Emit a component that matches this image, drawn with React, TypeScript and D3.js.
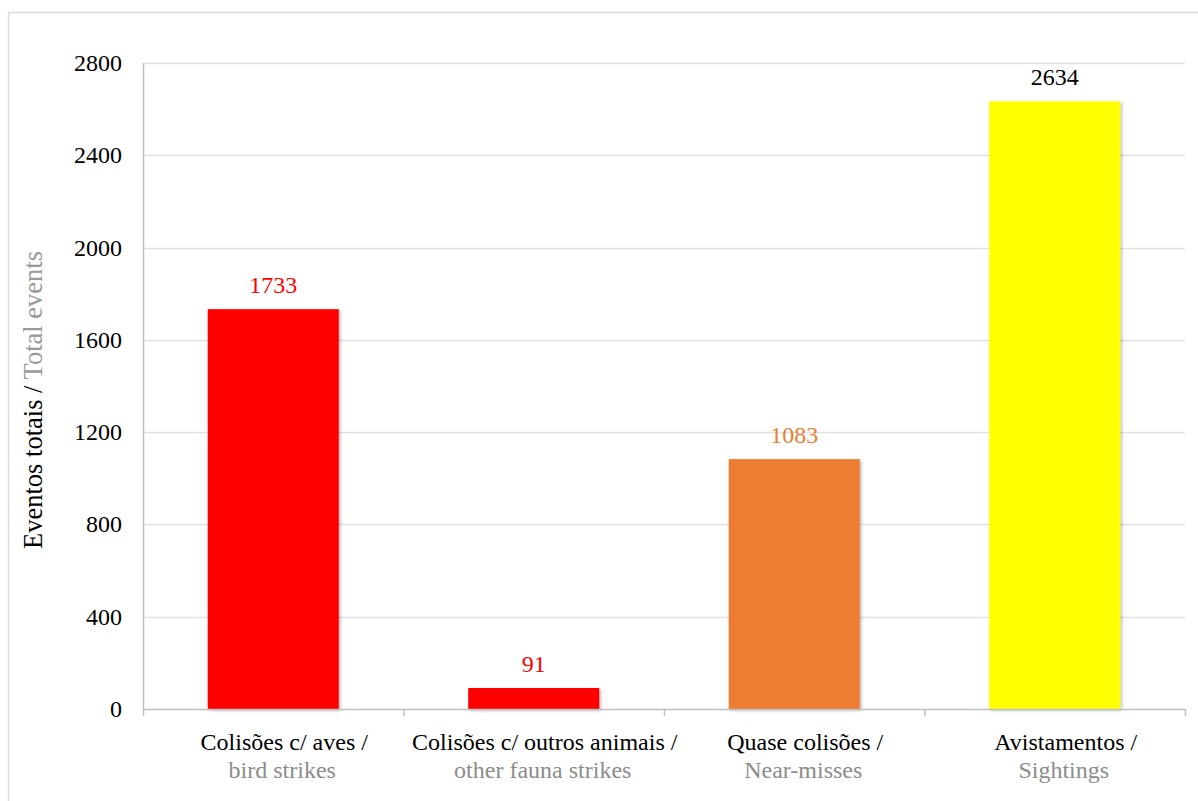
import React from "react";
import * as d3 from "d3";

// Event categories (two-line labels: Portuguese / English)
const categoriesPt = ["Colisões c/ aves /", "Colisões c/ outros animais /", "Quase colisões /", "Avistamentos /"];
const categoriesEn = ["bird strikes", "other fauna strikes", "Near-misses", "Sightings"];
const totals = [1733, 91, 1083, 2634];
const barColors = ["#FF0000", "#FF0000", "#ED7D31", "#FFFF00"];
const labelColors = ["#FF0000", "#FF0000", "#ED7D31", "#000000"];
const yTicks = [0, 400, 800, 1200, 1600, 2000, 2400, 2800];

const W = 1198;
const H = 801;
const margin = { left: 143, right: 13, top: 63, bottom: 92 };
const FONT = "Liberation Serif";
const FS = 24;
// category labels sit slightly right of the band centre
const LABEL_SHIFT_1 = 11;
const LABEL_SHIFT_2 = 9;

export default function App() {
  const x = d3
    .scaleBand<number>()
    .domain(d3.range(totals.length))
    .range([margin.left, W - margin.right])
    .paddingInner(0)
    .paddingOuter(0);
  const y = d3.scaleLinear().domain([0, 2800]).range([H - margin.bottom, margin.top]);
  const bw = x.bandwidth();
  const barW = bw * 0.503;
  const boundaries = d3.range(totals.length + 1).map((i) => margin.left + i * bw);

  return (
    <svg
      width={W}
      height={H}
      style={{ position: "absolute", left: 0, top: 0, display: "block", background: "#fff", fontFamily: FONT }}
    >
      <defs>
        <filter id="barShadow" x="-10%" y="-10%" width="130%" height="130%">
          <feDropShadow dx="1.5" dy="1.5" stdDeviation="1.5" floodColor="#000" floodOpacity="0.3" />
        </filter>
      </defs>
      {/* chart frame */}
      <rect x={8.5} y={12.5} width={1200} height={1200} fill="none" stroke="#D9DDE3" strokeWidth={1.5} />

      {/* horizontal gridlines */}
      {yTicks
        .filter((t) => t > 0)
        .map((t) => (
          <line
            key={"g" + t}
            x1={margin.left}
            x2={W - margin.right}
            y1={Math.round(y(t)) + 0.5}
            y2={Math.round(y(t)) + 0.5}
            stroke="#DDE1E6"
            strokeWidth={1.5}
          />
        ))}

      {/* y tick labels */}
      {yTicks.map((t) => (
        <text key={"t" + t} x={122} y={y(t) + 8} textAnchor="end" fontSize={FS} fill="#000">
          {t}
        </text>
      ))}

      {/* bars */}
      {totals.map((v, i) => (
        <rect
          key={"b" + i}
          x={(x(i) as number) + (bw - barW) / 2}
          y={y(v)}
          width={barW}
          height={y(0) - y(v)}
          fill={barColors[i]}
          filter="url(#barShadow)"
        />
      ))}

      {/* value labels */}
      {totals.map((v, i) => (
        <text
          key={"v" + i}
          x={(x(i) as number) + bw / 2}
          y={y(v) - 16}
          textAnchor="middle"
          fontSize={FS}
          fill={labelColors[i]}
        >
          {v}
        </text>
      ))}

      {/* axes */}
      <line x1={margin.left + 0.5} x2={margin.left + 0.5} y1={margin.top} y2={y(0)} stroke="#BFBFBF" strokeWidth={1.5} />
      <line x1={margin.left} x2={W - margin.right} y1={y(0) + 0.5} y2={y(0) + 0.5} stroke="#BFBFBF" strokeWidth={1.5} />
      {boundaries.map((bx, i) => (
        <line key={"k" + i} x1={bx + 0.5} x2={bx + 0.5} y1={y(0)} y2={y(0) + 7} stroke="#BFBFBF" strokeWidth={1.5} />
      ))}

      {/* category labels */}
      {categoriesPt.map((c, i) => (
        <g key={"c" + i}>
          <text x={(x(i) as number) + bw / 2 + LABEL_SHIFT_1} y={750} textAnchor="middle" fontSize={FS} fill="#000">
            {c}
          </text>
          <text x={(x(i) as number) + bw / 2 + LABEL_SHIFT_2} y={778} textAnchor="middle" fontSize={FS} fill="#8C8C8C">
            {categoriesEn[i]}
          </text>
        </g>
      ))}

      {/* y axis title */}
      <text transform="translate(42,400) rotate(-90)" textAnchor="middle" fontSize={26.5}>
        <tspan fill="#000">Eventos totais / </tspan>
        <tspan fill="#999999">Total events</tspan>
      </text>
    </svg>
  );
}
